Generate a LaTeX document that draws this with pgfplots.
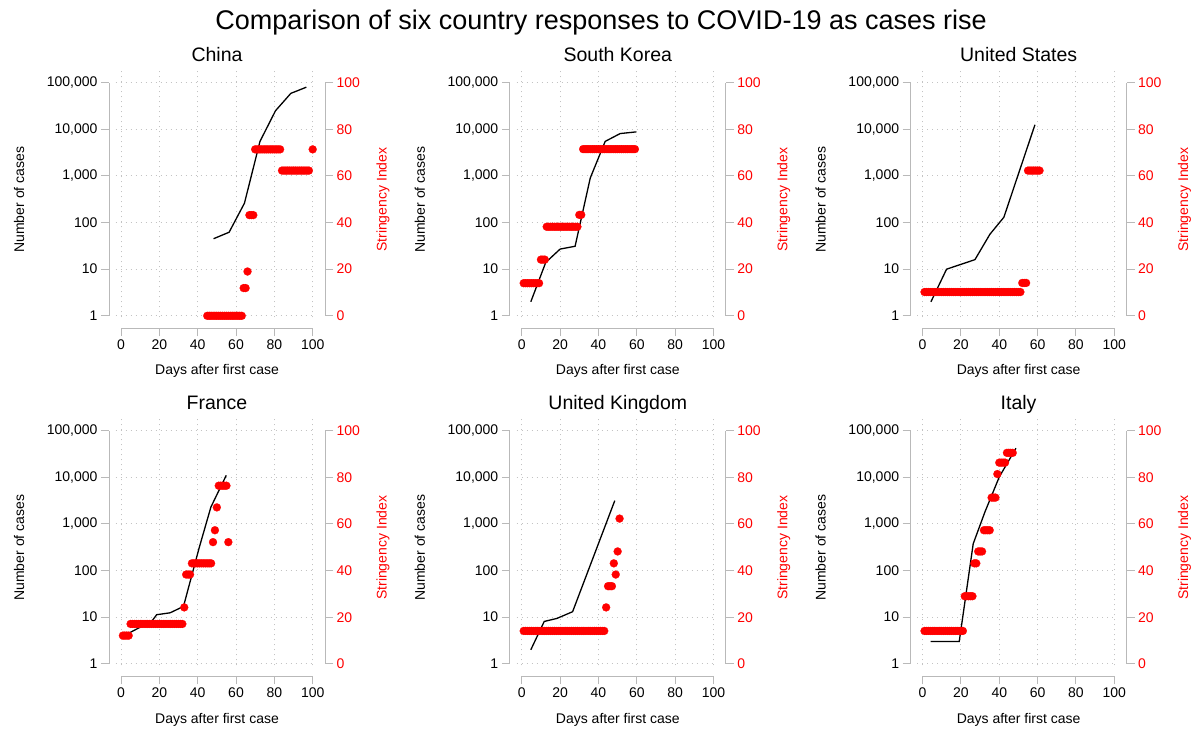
\documentclass[border=0pt]{standalone}
\usepackage{fontspec}
\setmainfont{Liberation Sans}
\usepackage{pgfplots}
\pgfplotsset{compat=1.18}

\definecolor{axgray}{RGB}{185,185,185}
\definecolor{gridgray}{RGB}{195,195,195}
\definecolor{sired}{RGB}{255,0,0}
\newcommand{\labfont}{\fontsize{14bp}{16bp}\selectfont}

% #1 column offset, #2 row offset, #3 title, #4 cases, #5 stringency index
\newcommand{\panel}[5]{%
  \begin{axis}[scale only axis, width=216bp, height=259bp, anchor=south west,
      at={(109bp+#1,401.7bp-#2)},
      xmin=-6.26, xmax=106.42, clip=false,
      axis line style={draw=none},
      tick align=outside, major tick length=8bp,
      tick style={axgray, line width=1bp},
      tick label style={font=\labfont},
      ymode=log, ymin=0.5395, ymax=193650,
      xtick={0,20,40,60,80,100}, xticklabels={0,20,40,60,80,100},
      ytick={1,10,100,1000,10000,100000},
      yticklabels={1,10,100,{1,000},{10,000},{100,000}},
      xtick pos=bottom, ytick pos=left, yminorticks=false]
    \pgfplotsinvokeforeach{0,20,40,60,80,100}{\draw[gridgray, line width=1bp, dash pattern=on 1bp off 4bp] (axis cs:##1,0.93) -- (axis cs:##1,193650);}
    \pgfplotsinvokeforeach{1,10,100,1000,10000,100000}{\draw[gridgray, line width=1bp, dash pattern=on 1bp off 4bp] (axis cs:-2.76,##1) -- (axis cs:101.2,##1);}
    \draw[axgray, line width=1bp] (axis cs:0,0.5395) -- (axis cs:100,0.5395);
    \draw[axgray, line width=1bp] (axis cs:-6.26,1) -- (axis cs:-6.26,100000);
    \draw[axgray, line width=1bp] (axis cs:106.42,1) -- (axis cs:106.42,100000);
    \addplot[black, line width=1.3bp] coordinates {#4};
  \end{axis}
  \begin{axis}[scale only axis, width=216bp, height=259bp, anchor=south west,
      at={(109bp+#1,401.7bp-#2)},
      xmin=-6.26, xmax=106.42, clip=false,
      axis line style={draw=none},
      tick align=outside, major tick length=8bp,
      tick style={axgray, line width=1bp},
      tick label style={font=\labfont},
      ymin=-5.36, ymax=105.75,
      xtick=\empty, ytick={0,20,40,60,80,100}, yticklabels={0,20,40,60,80,100},
      ytick pos=right, yticklabel pos=right, yticklabel style={text=sired}]
    \addplot[sired, only marks, mark=*, mark size=4bp, mark options={solid, fill=sired, draw=sired, line width=0.2bp}] coordinates {#5};
  \end{axis}
  \node[font=\fontsize{19.5bp}{22bp}\selectfont, anchor=base] at (217bp+#1,668.3bp-#2) {#3};
  \node[font=\labfont, anchor=base] at (217bp+#1,355bp-#2) {Days after first case};
  \node[font=\labfont, anchor=base, rotate=90] at (24bp+#1,530.3bp-#2) {Number of cases};
  \node[font=\labfont, anchor=base, rotate=90, text=sired] at (386.5bp+#1,530.3bp-#2) {Stringency Index};
}

\begin{document}
\begin{tikzpicture}
\useasboundingbox (0,0) rectangle (1193bp,730bp);
\node[font=\fontsize{27bp}{30bp}\selectfont, anchor=base] at (601bp,700.7bp) {Comparison of six country responses to COVID-19 as cases rise};

% China
\panel{0bp}{0bp}{China}{
  (48.3,45) (56.4,62) (64.4,260) (72.5,5500) (80.6,25000) (88.6,59000) (96.7,80000)
}{
  (45,0) (46,0) (47,0) (48,0) (49,0) (50,0) (51,0) (52,0) (53,0) (54,0)
  (55,0) (56,0) (57,0) (58,0) (59,0) (60,0) (61,0) (62,0) (63,0)
  (64,11.9) (65,11.9) (66,19) (67,43.2) (68,43.2) (69,43.2)
  (70,71.4) (71,71.4) (72,71.4) (73,71.4) (74,71.4) (75,71.4) (76,71.4)
  (77,71.4) (78,71.4) (79,71.4) (80,71.4) (81,71.4) (82,71.4) (83,71.4)
  (84,62.3) (85,62.3) (86,62.3) (87,62.3) (88,62.3) (89,62.3) (90,62.3) (91,62.3)
  (92,62.3) (93,62.3) (94,62.3) (95,62.3) (96,62.3) (97,62.3) (98,62.3)
  (100,71.4)
}

% South Korea
\panel{400.8bp}{0bp}{South Korea}{
  (4.7,2) (12.5,14) (20,27) (27.8,31) (35.7,900) (43.5,5500) (51.3,8100) (59.7,8800)
}{
  (1,14) (2,14) (3,14) (4,14) (5,14) (6,14) (7,14) (8,14) (9,14)
  (10,24.1) (11,24.1) (12,24.1)
  (13,38.2) (14,38.2) (15,38.2) (16,38.2) (17,38.2) (18,38.2) (19,38.2) (20,38.2) (21,38.2)
  (22,38.2) (23,38.2) (24,38.2) (25,38.2) (26,38.2) (27,38.2) (28,38.2) (29,38.2)
  (30,43.3) (31,43.3)
  (32,71.5) (33,71.5) (34,71.5) (35,71.5) (36,71.5) (37,71.5) (38,71.5) (39,71.5) (40,71.5)
  (41,71.5) (42,71.5) (43,71.5) (44,71.5) (45,71.5) (46,71.5) (47,71.5) (48,71.5) (49,71.5)
  (50,71.5) (51,71.5) (52,71.5) (53,71.5) (54,71.5) (55,71.5) (56,71.5) (57,71.5) (58,71.5)
  (59,71.5)
}

% United States
\panel{801.6bp}{0bp}{United States}{
  (4.35,2) (12.5,10) (27.3,16) (35.1,56) (42.4,130) (58.6,12500)
}{
  (1,10.2) (2,10.2) (3,10.2) (4,10.2) (5,10.2) (6,10.2) (7,10.2) (8,10.2) (9,10.2) (10,10.2)
  (11,10.2) (12,10.2) (13,10.2) (14,10.2) (15,10.2) (16,10.2) (17,10.2) (18,10.2) (19,10.2)
  (20,10.2) (21,10.2) (22,10.2) (23,10.2) (24,10.2) (25,10.2) (26,10.2) (27,10.2) (28,10.2)
  (29,10.2) (30,10.2) (31,10.2) (32,10.2) (33,10.2) (34,10.2) (35,10.2) (36,10.2) (37,10.2)
  (38,10.2) (39,10.2) (40,10.2) (41,10.2) (42,10.2) (43,10.2) (44,10.2) (45,10.2) (46,10.2)
  (47,10.2) (48,10.2) (49,10.2) (50,10.2) (51,10.2)
  (52,14.1) (53,14.1) (54,14.1)
  (55,62.3) (56,62.3) (57,62.3) (58,62.3) (59,62.3) (60,62.3) (61,62.3)
}

% France
\panel{0bp}{348bp}{France}{
  (2.5,4.2) (9,5.8) (16,8.1) (18.6,11.3) (25.6,12.4) (32.6,17) (40.8,310) (46.9,2300) (54.9,11000)
}{
  (1,12.1) (2,12.1) (3,12.1) (4,12.1)
  (5,17.1) (6,17.1) (7,17.1) (8,17.1) (9,17.1) (10,17.1) (11,17.1) (12,17.1) (13,17.1)
  (14,17.1) (15,17.1) (16,17.1) (17,17.1) (18,17.1) (19,17.1) (20,17.1) (21,17.1) (22,17.1)
  (23,17.1) (24,17.1) (25,17.1) (26,17.1) (27,17.1) (28,17.1) (29,17.1) (30,17.1) (31,17.1)
  (32,17.1)
  (33,24.2) (34,38.3) (35,38.3) (36,38.3)
  (37,43.1) (38,43.1) (39,43.1) (40,43.1) (41,43.1) (42,43.1) (43,43.1) (44,43.1) (45,43.1)
  (46,43.1) (47,43.1)
  (48,52.2) (49,57.3) (50,67.1)
  (51,76.4) (52,76.4) (53,76.4) (54,76.4) (55,76.4)
  (56,52.2)
}

% United Kingdom
\panel{400.8bp}{348bp}{United Kingdom}{
  (4.7,2) (11.7,8.1) (18.3,9.4) (26.5,13.1) (48.5,3160)
}{
  (1,14.1) (2,14.1) (3,14.1) (4,14.1) (5,14.1) (6,14.1) (7,14.1) (8,14.1) (9,14.1) (10,14.1)
  (11,14.1) (12,14.1) (13,14.1) (14,14.1) (15,14.1) (16,14.1) (17,14.1) (18,14.1) (19,14.1)
  (20,14.1) (21,14.1) (22,14.1) (23,14.1) (24,14.1) (25,14.1) (26,14.1) (27,14.1) (28,14.1)
  (29,14.1) (30,14.1) (31,14.1) (32,14.1) (33,14.1) (34,14.1) (35,14.1) (36,14.1) (37,14.1)
  (38,14.1) (39,14.1) (40,14.1) (41,14.1) (42,14.1) (43,14.1)
  (44,24.2) (45,33.3) (46,33.3) (47,33.3) (48,43.1) (49,38.3) (50,48.2) (51,62.3)
}

% Italy
\panel{801.6bp}{348bp}{Italy}{
  (4.2,3) (19.1,3) (26.4,376) (32.5,1800) (40,10200) (48.7,42000)
}{
  (1,14.1) (2,14.1) (3,14.1) (4,14.1) (5,14.1) (6,14.1) (7,14.1) (8,14.1) (9,14.1) (10,14.1)
  (11,14.1) (12,14.1) (13,14.1) (14,14.1) (15,14.1) (16,14.1) (17,14.1) (18,14.1) (19,14.1)
  (20,14.1) (21,14.1)
  (22,29) (23,29) (24,29) (25,29) (26,29)
  (27,43.1) (28,43.1) (29,48.2) (30,48.2) (31,48.2)
  (32,57.3) (33,57.3) (34,57.3) (35,57.3)
  (36,71.3) (37,71.3) (38,71.3) (39,81.4)
  (40,86.3) (41,86.3) (42,86.3) (43,86.3)
  (44,90.5) (45,90.5) (46,90.5) (47,90.5)
}
\end{tikzpicture}
\end{document}
